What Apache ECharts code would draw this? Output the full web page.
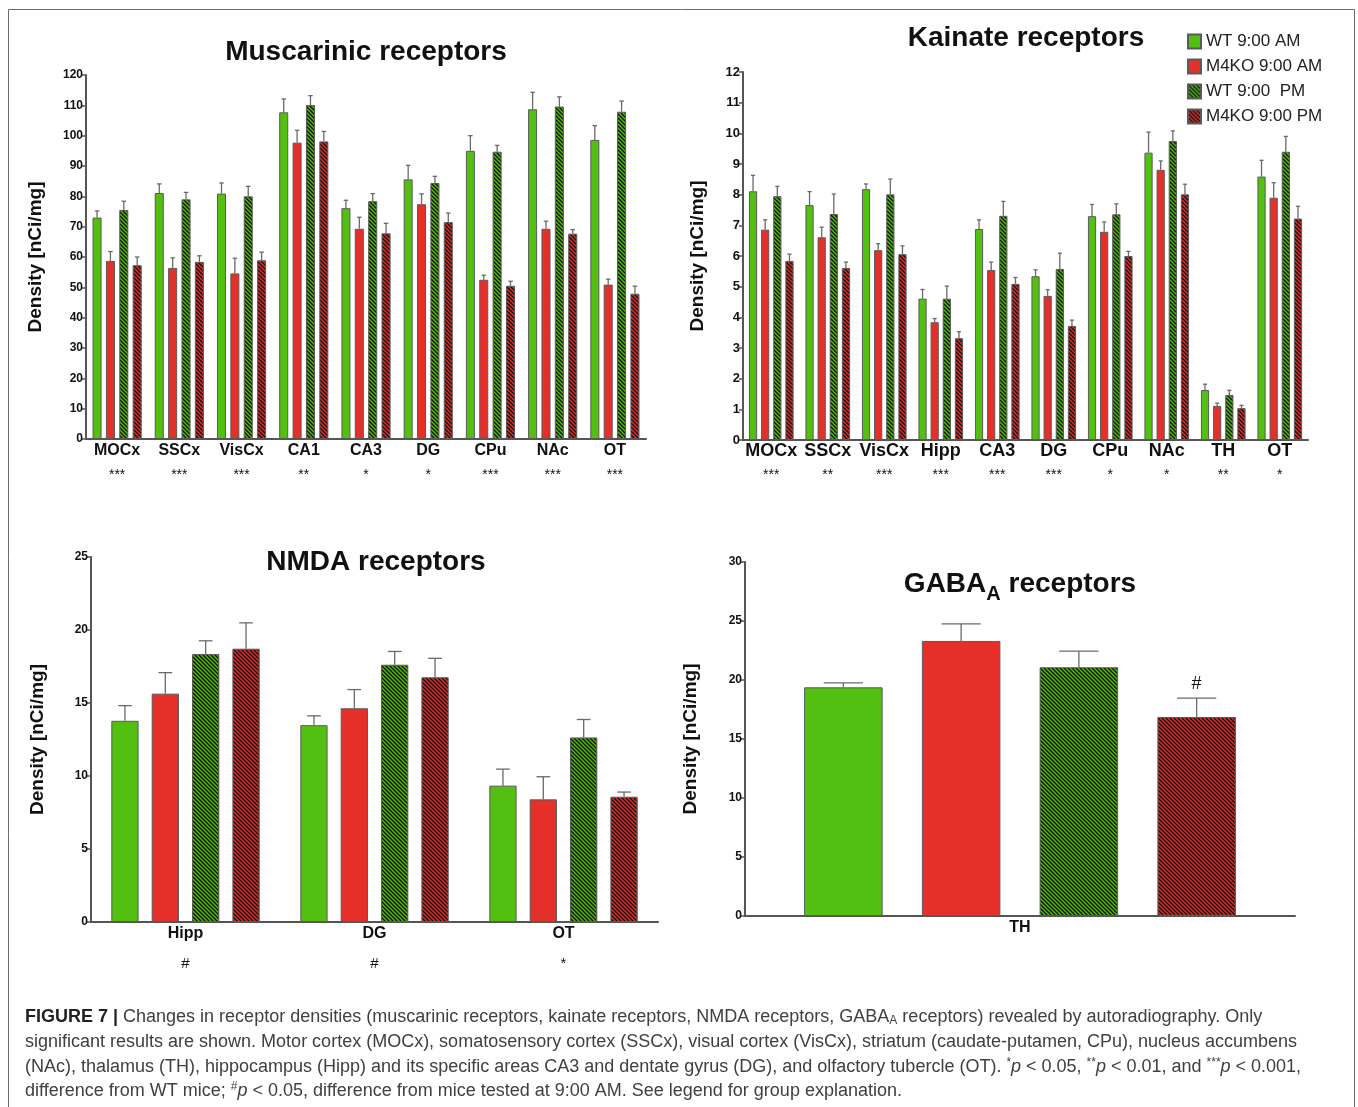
<!DOCTYPE html>
<html>
<head>
<meta charset="utf-8">
<script src="https://cdn.jsdelivr.net/npm/echarts@6/dist/echarts.min.js"></script>
<style>
html,body{margin:0;padding:0;background:#fff;}
#c{width:1358px;height:1107px;}
</style>
</head>
<body>
<div id="c"></div>
<script>
// ---------- DATA ----------
const groupNames = ['WT 9:00 AM', 'M4KO 9:00 AM', 'WT 9:00  PM', 'M4KO 9:00 PM'];

// Muscarinic receptors
const musCats = ['MOCx', 'SSCx', 'VisCx', 'CA1', 'CA3', 'DG', 'CPu', 'NAc', 'OT'];
const musSig = ['***', '***', '***', '**', '*', '*', '***', '***', '***'];
const musWtAm = [73.0, 81.1, 80.9, 107.7, 76.1, 85.6, 95.0, 108.7, 98.6];
const musWtAmErr = [75.2, 84.1, 84.4, 112.1, 78.7, 90.2, 100.0, 114.3, 103.3];
const musKoAm = [58.7, 56.4, 54.6, 97.7, 69.3, 77.4, 52.5, 69.3, 50.9];
const musKoAmErr = [61.8, 59.7, 59.6, 101.8, 73.1, 80.8, 54.0, 71.8, 52.7];
const musWtPm = [75.5, 79.0, 80.0, 110.1, 78.4, 84.4, 94.7, 109.6, 107.9];
const musWtPmErr = [78.4, 81.3, 83.3, 113.2, 80.9, 86.6, 96.8, 112.8, 111.4];
const musKoPm = [57.3, 58.4, 58.9, 98.1, 67.8, 71.5, 50.5, 67.7, 47.9];
const musKoPmErr = [60.0, 60.4, 61.6, 101.4, 71.1, 74.5, 52.0, 69.0, 50.4];
const musTicks = {min: 0, max: 120, interval: 10};

// Kainate receptors
const kaiCats = ['MOCx', 'SSCx', 'VisCx', 'Hipp', 'CA3', 'DG', 'CPu', 'NAc', 'TH', 'OT'];
const kaiSig = ['***', '**', '***', '***', '***', '***', '*', '*', '**', '*'];
const kaiWtAm = [8.11, 7.66, 8.18, 4.61, 6.88, 5.34, 7.30, 9.37, 1.63, 8.59];
const kaiWtAmErr = [8.63, 8.10, 8.35, 4.91, 7.18, 5.55, 7.68, 10.04, 1.82, 9.12];
const kaiKoAm = [6.86, 6.61, 6.19, 3.84, 5.54, 4.70, 6.79, 8.81, 1.11, 7.90];
const kaiKoAmErr = [7.18, 6.94, 6.40, 3.96, 5.80, 4.90, 7.11, 9.10, 1.20, 8.39];
const kaiWtPm = [7.95, 7.37, 8.01, 4.61, 7.31, 5.58, 7.36, 9.75, 1.47, 9.40];
const kaiWtPmErr = [8.27, 8.02, 8.51, 5.02, 7.78, 6.09, 7.70, 10.08, 1.62, 9.90];
const kaiKoPm = [5.84, 5.61, 6.06, 3.32, 5.09, 3.72, 6.00, 8.01, 1.04, 7.22];
const kaiKoPmErr = [6.06, 5.80, 6.33, 3.53, 5.30, 3.91, 6.15, 8.34, 1.13, 7.62];
const kaiTicks = {min: 0, max: 12, interval: 1};

// NMDA receptors
const nmdaCats = ['Hipp', 'DG', 'OT'];
const nmdaSig = ['#', '#', '*'];
const nmdaWtAm = [13.78, 13.48, 9.34];
const nmdaWtAmErr = [14.82, 14.12, 10.47];
const nmdaKoAm = [15.64, 14.64, 8.40];
const nmdaKoAmErr = [17.08, 15.92, 9.95];
const nmdaWtPm = [18.35, 17.62, 12.64];
const nmdaWtPmErr = [19.26, 18.53, 13.87];
const nmdaKoPm = [18.72, 16.76, 8.58];
const nmdaKoPmErr = [20.49, 18.06, 8.90];
const nmdaTicks = {min: 0, max: 25, interval: 5};

// GABA-A receptors
const gabaCats = ['TH'];
const gabaSig = [''];
const gabaWtAm = [19.38];
const gabaWtAmErr = [19.75];
const gabaKoAm = [23.31];
const gabaKoAmErr = [24.76];
const gabaWtPm = [21.08];
const gabaWtPmErr = [22.44];
const gabaKoPm = [16.86];
const gabaKoPmErr = [18.47];
const gabaAboveMarks = ['', '', '', '#'];   // per group, above the error bar
const gabaTicks = {min: 0, max: 30, interval: 5};

const panelTitles = ['Muscarinic receptors', 'Kainate receptors', 'NMDA receptors', 'GABA_A receptors'];
const yName = 'Density [nCi/mg]';

// ---------- STYLE ----------
const FONT = "'Liberation Sans', Arial, Helvetica, sans-serif";
const GREEN = '#53bf10';
const RED = '#e5302a';
const BORDER = '#5a5a5a';
const AXIS = '#555555';

function hatch(base) {
  const s = 4;
  const c = document.createElement('canvas');
  c.width = s; c.height = s;
  const g = c.getContext('2d');
  g.fillStyle = base; g.fillRect(0, 0, s, s);
  g.strokeStyle = '#141414'; g.lineWidth = 1.45;
  g.beginPath();
  g.moveTo(-1, -1); g.lineTo(s + 1, s + 1);
  g.moveTo(-1, s - 1); g.lineTo(1, s + 1);
  g.moveTo(s - 1, -1); g.lineTo(s + 1, 1);
  g.stroke();
  return {image: c, repeat: 'repeat'};
}
const fills = [GREEN, RED, hatch(GREEN), hatch(RED)];

const panels = [
  {cats: musCats, sig: musSig, vals: [musWtAm, musKoAm, musWtPm, musKoPm], errs: [musWtAmErr, musKoAmErr, musWtPmErr, musKoPmErr], ticks: musTicks,
   grid: {left: 86, top: 75, width: 560, height: 364}, catGap: 0.21, barGap: 0.48, nameGap: 41, labelSize: 16, sigLH: 28, sigSize: 14, tickSize: 12},
  {cats: kaiCats, sig: kaiSig, vals: [kaiWtAm, kaiKoAm, kaiWtPm, kaiKoPm], errs: [kaiWtAmErr, kaiKoAmErr, kaiWtPmErr, kaiKoPmErr], ticks: kaiTicks,
   grid: {left: 743, top: 72, width: 565, height: 368}, catGap: 0.21, barGap: 0.48, nameGap: 36, labelSize: 18, sigLH: 27, sigSize: 14, tickSize: 13},
  {cats: nmdaCats, sig: nmdaSig, vals: [nmdaWtAm, nmdaKoAm, nmdaWtPm, nmdaKoPm], errs: [nmdaWtAmErr, nmdaKoAmErr, nmdaWtPmErr, nmdaKoPmErr], ticks: nmdaTicks,
   grid: {left: 91, top: 557, width: 567, height: 365}, catGap: 0.215, barGap: 0.48, nameGap: 44, labelSize: 16, sigLH: 40, sigSize: 15, tickSize: 12},
  {cats: gabaCats, sig: gabaSig, vals: [gabaWtAm, gabaKoAm, gabaWtPm, gabaKoPm], errs: [gabaWtAmErr, gabaKoAmErr, gabaWtPmErr, gabaKoPmErr], ticks: gabaTicks,
   grid: {left: 745, top: 562, width: 550, height: 354}, catGap: 0.215, barGap: 0.5, nameGap: 45, labelSize: 16, sigLH: 30, sigSize: 14, tickSize: 12,
   above: gabaAboveMarks}
];

const grids = [], xAxes = [], yAxes = [], series = [];

panels.forEach((p, gi) => {
  grids.push(Object.assign({containLabel: false}, p.grid));
  xAxes.push({
    type: 'category', gridIndex: gi, data: p.cats,
    axisLine: {lineStyle: {color: AXIS, width: 2}},
    axisTick: {show: false},
    axisLabel: {
      margin: 1, interval: 0,
      formatter: (v, i) => p.sig[i] ? '{c|' + v + '}\n{s|' + p.sig[i] + '}' : '{c|' + v + '}',
      rich: {
        c: {fontFamily: FONT, fontWeight: 'bold', fontSize: p.labelSize, color: '#111', lineHeight: 21},
        s: {fontFamily: FONT, fontSize: p.sigSize, color: '#111', lineHeight: p.sigLH}
      }
    }
  });
  yAxes.push({
    type: 'value', gridIndex: gi, min: p.ticks.min, max: p.ticks.max, interval: p.ticks.interval,
    name: yName, nameLocation: 'middle', nameRotate: 90, nameGap: p.nameGap,
    nameTextStyle: {fontFamily: FONT, fontWeight: 'bold', fontSize: 19, color: '#111'},
    axisLine: {show: true, lineStyle: {color: AXIS, width: 2}},
    axisTick: {show: true, length: 4, lineStyle: {color: AXIS, width: 1.5}},
    axisLabel: {margin: 3, fontFamily: FONT, fontWeight: 'bold', fontSize: p.tickSize, color: '#111'},
    splitLine: {show: false}
  });
  p.vals.forEach((vals, k) => {
    series.push({
      type: 'bar', name: groupNames[k], xAxisIndex: gi, yAxisIndex: gi, data: vals,
      barCategoryGap: (p.catGap * 100) + '%', barGap: (p.barGap * 100) + '%',
      itemStyle: {color: fills[k], borderColor: BORDER, borderWidth: 1},
      animation: false, silent: true
    });
  });
  p.vals.forEach((vals, k) => {
    const n = p.vals.length;
    const mark = p.above ? p.above[k] : '';
    series.push({
      type: 'custom', name: 'err' + gi + '_' + k, xAxisIndex: gi, yAxisIndex: gi,
      data: vals.map((v, i) => [i, v, p.errs[k][i]]),
      encode: {x: 0, y: [1, 2]},
      animation: false, silent: true, z: 3,
      renderItem: (params, api) => {
        const cat = api.value(0), v = api.value(1), e = api.value(2);
        const band = api.size([1, 0])[0];
        const w = band * (1 - p.catGap) / (n + (n - 1) * p.barGap);
        const total = n * w + (n - 1) * p.barGap * w;
        const base = api.coord([cat, v]);
        const cx = base[0] - total / 2 + w / 2 + k * w * (1 + p.barGap);
        const y0 = base[1];
        const y1 = api.coord([cat, e])[1];
        const cap = w / 4;
        const st = {stroke: '#6a6a6a', lineWidth: 1.3};
        const children = [
          {type: 'line', shape: {x1: cx, y1: y0, x2: cx, y2: y1}, style: st},
          {type: 'line', shape: {x1: cx - cap, y1: y1, x2: cx + cap, y2: y1}, style: st}
        ];
        if (mark) {
          children.push({type: 'text', x: cx, y: y1 - 14,
            style: {text: mark, fontFamily: FONT, fontSize: 18, fill: '#111', align: 'center', verticalAlign: 'middle'}});
        }
        return {type: 'group', children};
      }
    });
  });
});

// ---------- GRAPHICS (titles, caption, frame) ----------
const titleStyle = {fontFamily: FONT, fontWeight: 'bold', fontSize: 28, fill: '#111', align: 'center', verticalAlign: 'middle'};
const graphics = [
  {type: 'rect', shape: {x: 8.5, y: 9.5, width: 1346, height: 1120}, style: {fill: 'none', stroke: '#6b6b6b', lineWidth: 1}, silent: true},
  {type: 'text', x: 366, y: 52, style: Object.assign({text: panelTitles[0]}, titleStyle)},
  {type: 'text', x: 1026, y: 38, style: Object.assign({text: panelTitles[1]}, titleStyle)},
  {type: 'text', x: 376, y: 562, style: Object.assign({text: panelTitles[2]}, titleStyle)},
  {type: 'text', x: 1020, y: 584, style: {
    text: '{t|GABA}{s|A}{t| receptors}', align: 'center', verticalAlign: 'middle',
    rich: {
      t: {fontFamily: FONT, fontWeight: 'bold', fontSize: 28, fill: '#111', lineHeight: 40},
      s: {fontFamily: FONT, fontWeight: 'bold', fontSize: 20, fill: '#111', lineHeight: 18, verticalAlign: 'bottom'}
    }}}
];

const capLines = [
  '{b|FIGURE 7 |}{n| Changes in receptor densities (muscarinic receptors, kainate receptors, NMDA receptors, GABA}{sub|A}{n| receptors) revealed by autoradiography. Only}',
  '{n|significant results are shown. Motor cortex (MOCx), somatosensory cortex (SSCx), visual cortex (VisCx), striatum (caudate-putamen, CPu), nucleus accumbens}',
  '{n|(NAc), thalamus (TH), hippocampus (Hipp) and its specific areas CA3 and dentate gyrus (DG), and olfactory tubercle (OT). }{sup|*}{i|p}{n| < 0.05, }{sup|**}{i|p}{n| < 0.01, and }{sup|***}{i|p}{n| < 0.001,}',
  '{n|difference from WT mice; }{sup|#}{i|p}{n| < 0.05, difference from mice tested at 9:00 AM. See legend for group explanation.}'
];
const capY = [1017, 1042, 1067, 1091];
const CAPF = 18, CAPC = '#404040';
const capRich = {
  n: {fontFamily: FONT, fontSize: CAPF, fill: CAPC, lineHeight: 20},
  b: {fontFamily: FONT, fontSize: CAPF, fontWeight: 'bold', fill: '#222', lineHeight: 20},
  i: {fontFamily: FONT, fontSize: CAPF, fontStyle: 'italic', fill: CAPC, lineHeight: 20},
  sup: {fontFamily: FONT, fontSize: 12, fill: CAPC, lineHeight: 12, verticalAlign: 'top'},
  sub: {fontFamily: FONT, fontSize: 12, fill: CAPC, lineHeight: 12, verticalAlign: 'bottom'}
};
capLines.forEach((t, i) => {
  graphics.push({type: 'text', x: 25, y: capY[i], silent: true,
    style: {text: t, align: 'left', verticalAlign: 'middle', rich: capRich}});
});

const chart = echarts.init(document.getElementById('c'), null, {renderer: 'canvas'});
chart.setOption({
  backgroundColor: '#ffffff',
  animation: false,
  grid: grids,
  xAxis: xAxes,
  yAxis: yAxes,
  legend: {
    data: groupNames, orient: 'vertical', left: 1182, top: 28,
    itemWidth: 13, itemHeight: 14, itemGap: 8, icon: 'rect', selectedMode: false,
    textStyle: {fontFamily: FONT, fontSize: 17, color: '#222'}
  },
  series: series,
  graphic: graphics
});
</script>
</body>
</html>
